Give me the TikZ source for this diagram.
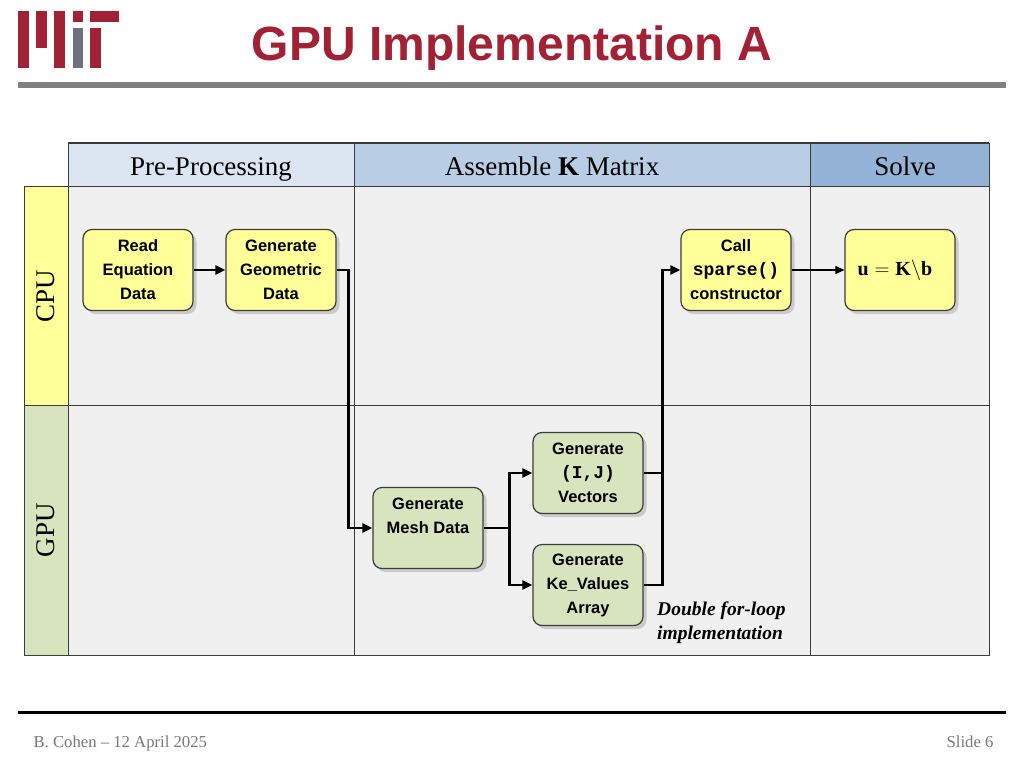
\documentclass[tikz,border=0pt]{standalone}
\usepackage{fontspec}
\setmainfont{Liberation Serif}
\setsansfont{Liberation Sans}
\setmonofont{Liberation Mono}
\usetikzlibrary{shadows,arrows.meta}
\definecolor{mitred}{RGB}{163, 33, 52}
\definecolor{mitgray}{RGB}{110, 112, 128}
\definecolor{rulegray}{RGB}{128, 128, 128}
\definecolor{cellgray}{RGB}{240, 240, 240}
\definecolor{gridgray}{RGB}{60, 60, 60}
\definecolor{headone}{RGB}{220, 230, 242}
\definecolor{headtwo}{RGB}{185, 205, 229}
\definecolor{headthree}{RGB}{149, 179, 215}
\definecolor{cpuyellow}{RGB}{255, 255, 153}
\definecolor{gpugreen}{RGB}{215, 228, 189}
\definecolor{footgray}{RGB}{120, 120, 120}

\tikzset{
  procbox/.style={draw=gridgray, line width=1.2pt, rounded corners=9pt, minimum width=110pt, minimum height=81pt,
                  align=center, font=\sffamily\bfseries\fontsize{16.5}{24}\selectfont,
                  drop shadow={shadow xshift=3.5pt, shadow yshift=-3.5pt, fill=black!35}},
  cpubox/.style={procbox, fill=cpuyellow},
  gpubox/.style={procbox, fill=gpugreen},
  headtext/.style={font=\fontsize{27}{30}\selectfont},
  flow/.style={line width=2.4pt, -{Triangle[length=10pt,width=9pt]}},
  thinflow/.style={line width=1.1pt, -{Triangle[length=9pt,width=8pt]}},
}

\begin{document}
\begin{tikzpicture}[x=1pt,y=-1pt]
            \useasboundingbox[fill=white]                                 (0,0) rectangle (1024,768);
            \fill[mitred]                                                 ( 18, 11) rectangle ( 29, 68);
            \fill[mitred]                                                 ( 36, 11) rectangle ( 47, 48);
            \fill[mitred]                                                 ( 54, 11) rectangle ( 65, 68);
            \fill[mitred]                                                 ( 73, 11) rectangle ( 83, 22);
            \fill[mitgray]                                                ( 73, 28) rectangle ( 83, 68);
            \fill[mitred]                                                 ( 90, 11) rectangle (119, 22);
            \fill[mitred]                                                 ( 90, 28) rectangle (101, 68);
            \node[text=mitred, font=\sffamily\bfseries\fontsize{48}{52}\selectfont] (title) at (512, 48) {GPU Implementation A};
            \fill[rulegray]                                               ( 18, 82) rectangle (1006, 88);

            \fill[headone]                                                ( 68,143) rectangle (354,186);
            \fill[headtwo]                                                (354,143) rectangle (810,186);
            \fill[headthree]                                              (810,143) rectangle (989,186);
            \fill[cpuyellow]                                              ( 24,186) rectangle ( 68,405);
            \fill[gpugreen]                                               ( 24,405) rectangle ( 68,655);
            \fill[cellgray]                                               ( 68,186) rectangle (989,655);
            \draw[gridgray, line width=1pt]                               ( 68,143) rectangle (989,655);
            \draw[gridgray, line width=1pt]                               ( 24,186) rectangle ( 68,655);
            \draw[gridgray, line width=1pt]                               ( 68,186) -- (989,186);
            \draw[gridgray, line width=0.8pt]                             ( 24,405) -- (989,405);
            \draw[gridgray, line width=0.8pt]                             (354,143) -- (354,655);
            \draw[gridgray, line width=0.8pt]                             (810,143) -- (810,655);
            \draw[gridgray, line width=1.6pt]                             ( 68,143) -- (989,143);

            \node[headtext, anchor=base] (prehead)   at (211,175) {Pre-Processing};
            \node[headtext, anchor=base] (asmhead)   at (552,175) {Assemble \textbf{K} Matrix};
            \node[headtext, anchor=base] (solvehead) at (905,175) {Solve};
            \node[headtext, rotate=90] (cpulabel) at (46,296) {CPU};
            \node[headtext, rotate=90] (gpulabel) at (46,530) {GPU};

            \node[cpubox] (read)  at (138,270) {Read\\Equation\\Data};
            \node[cpubox] (geom)  at (281,270) {Generate\\Geometric\\Data};
            \node[cpubox] (call)  at (736,270) {Call\\{\ttfamily\fontsize{18}{24}\selectfont sparse()}\\constructor};
            \node[cpubox] (solve) at (900,270) {\fontsize{20}{24}\selectfont$\mathbf{u}=\mathbf{K}\backslash\mathbf{b}$\hspace*{10pt}};
            \node[gpubox] (mesh)  at (428,528) {Generate\\Mesh Data\\~};
            \node[gpubox] (ij)    at (588,473) {Generate\\{\ttfamily\fontsize{18}{24}\selectfont (I,J)}\\Vectors};
            \node[gpubox] (ke)    at (588,585) {Generate\\Ke\_Values\\Array};

            \draw[flow]     (read) -- (geom);
            \draw[flow]     (geom.east) -- ++(12,0) |- (mesh.west);
            \draw[flow]     (mesh.east) -- ++(26,0) coordinate (split) |- (ij.west);
            \draw[flow]     (split) |- (ke.west);
            \draw[flow]     (ke.east) -- ++(19,0) coordinate (join) |- (call.west);
            \draw[line width=2.4pt] (ij.east) -- (ij.east -| join);
            \draw[thinflow] (call) -- (solve);

            \node[anchor=north west, inner sep=0pt, align=left, font=\bfseries\itshape\fontsize{19.5}{24}\selectfont] (loopnote) at (657,602) {Double for-loop\\implementation};

            \draw[black, line width=3pt]                                  ( 18,712) -- (1006,712);
            \node[anchor=base west, text=footgray, font=\fontsize{16.7}{18}\selectfont] (author) at ( 30,747) {B. Cohen -- 12 April 2025};
            \node[anchor=base east, text=footgray, font=\fontsize{16.7}{18}\selectfont] (slideno) at (997,747) {Slide 6};
        \end{tikzpicture}
\end{document}
